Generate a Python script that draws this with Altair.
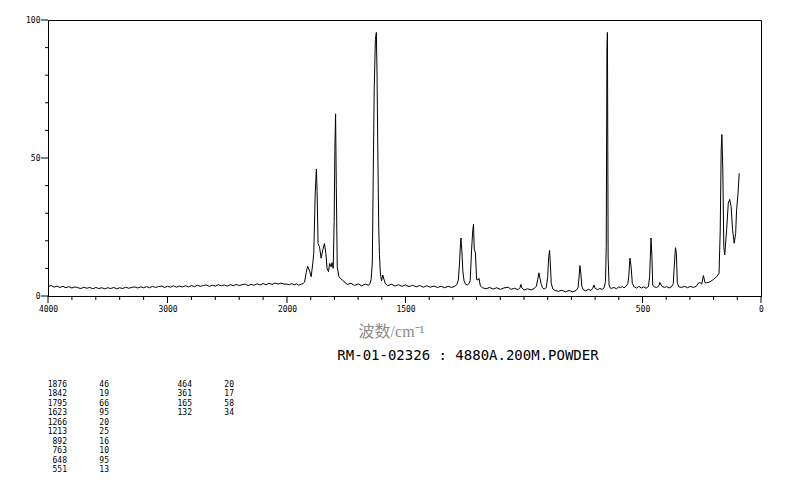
import altair as alt
import pandas as pd

# ---- spectrum ----
wavenumber = [
    4000, 3975, 3950, 3925, 3900, 3875, 3850, 3825, 3800, 3775,
    3750, 3725, 3700, 3675, 3650, 3625, 3600, 3575, 3550, 3525,
    3500, 3475, 3450, 3425, 3400, 3375, 3350, 3325, 3300, 3275,
    3250, 3225, 3200, 3175, 3150, 3125, 3100, 3075, 3050, 3025,
    3000, 2975, 2950, 2925, 2900, 2875, 2850, 2825, 2800, 2775,
    2750, 2725, 2700, 2675, 2650, 2625, 2600, 2575, 2550, 2525,
    2500, 2475, 2450, 2425, 2400, 2375, 2350, 2325, 2300, 2275,
    2250, 2225, 2200, 2175, 2150, 2125, 2100, 2075, 2050, 2025,
    2000, 1990, 1980, 1970, 1960, 1950, 1940, 1932, 1926,
    1919, 1913, 1906, 1898, 1891, 1887, 1881, 1876, 1873, 1869,
    1863, 1856, 1849, 1842, 1836, 1831, 1825, 1820, 1814, 1810,
    1805, 1801, 1798, 1795, 1792, 1788, 1781, 1767, 1746, 1730,
    1715, 1700, 1685, 1670, 1655, 1650, 1645, 1640, 1636, 1632,
    1627, 1623, 1620, 1617, 1613, 1610, 1606, 1601, 1596, 1590,
    1585, 1575, 1560, 1545, 1530, 1515, 1500, 1485, 1470, 1455,
    1440, 1425, 1410, 1395, 1380, 1365, 1350, 1335, 1320, 1305,
    1292, 1283, 1277, 1272, 1268, 1266, 1262, 1258, 1253, 1246,
    1239, 1233, 1227, 1221, 1216, 1213, 1210, 1205, 1200, 1194,
    1190, 1184, 1175, 1160, 1145, 1130, 1115, 1100, 1085, 1067,
    1055, 1040, 1025, 1017, 1013, 1009, 1000, 985, 970, 958,
    948, 942, 937, 933, 928, 922, 915, 906, 900, 896,
    892, 889, 885, 878, 870, 855, 840, 825, 810, 795,
    780, 772, 768, 764, 760, 756, 750, 740, 728, 718,
    710, 705, 700, 690, 680, 670, 662, 656, 653, 650,
    648, 645, 641, 636, 630, 620, 610, 600, 592, 585,
    578, 570, 562, 558, 553, 548, 543, 535, 525, 515,
    505, 495, 485, 475, 470, 464, 460, 457, 450, 440,
    430, 427, 418, 408, 398, 388, 378, 370, 367, 361,
    357, 353, 346, 335, 322, 310, 298, 285, 272, 265,
    257, 250, 243, 236, 229, 215, 201, 187, 177, 172,
    168, 165, 161, 157, 153, 145, 138, 132, 126, 120,
    113, 107, 103, 97, 92,
]
intensity = [
    3.4, 3.8, 3.2, 3.6, 3.1, 3.5, 3.0, 3.4, 2.9, 3.3,
    3.0, 2.7, 3.2, 2.8, 3.1, 2.6, 3.1, 2.7, 3.0, 2.6,
    3.0, 2.7, 3.1, 2.6, 3.0, 2.7, 3.2, 2.8, 3.1, 3.3,
    2.9, 3.3, 3.0, 3.4, 3.0, 3.5, 3.1, 3.4, 3.6, 3.1,
    3.5, 3.2, 3.7, 3.2, 3.6, 3.3, 3.7, 3.3, 3.8, 3.4,
    3.9, 3.5, 3.8, 4.0, 3.5, 3.9, 3.6, 4.1, 3.7, 4.0,
    3.6, 4.1, 3.7, 4.2, 3.8, 4.1, 4.3, 3.8, 4.2, 3.9,
    4.4, 4.0, 4.5, 4.1, 4.6, 4.2, 4.7, 4.3, 4.7, 4.3,
    4.3, 4.1, 4.5, 4.0, 4.4, 3.9, 4.3, 4.5, 5.0,
    8.5, 10.8, 9.4, 7.0, 12.0, 15.5, 37.0, 46.0, 38.0, 19.0,
    17.9, 13.7, 16.7, 19.0, 15.5, 10.0, 8.8, 11.8, 10.6, 12.1,
    10.0, 27.0, 53.0, 66.0, 40.0, 10.6, 7.0, 5.8, 4.2, 4.6,
    3.8, 4.4, 3.7, 4.3, 3.9, 4.5, 6.0, 12.0, 45.0, 75.0,
    93.0, 95.5, 80.0, 54.0, 25.0, 15.0, 8.0, 5.5, 7.6, 5.8,
    4.5, 3.7, 4.3, 3.6, 4.1, 3.5, 4.0, 3.4, 3.9, 3.3,
    3.8, 3.2, 3.7, 3.2, 3.6, 3.1, 3.5, 3.0, 3.5, 3.1,
    3.5, 4.2, 5.8, 12.0, 19.0, 21.0, 16.0, 9.0, 5.5, 4.2,
    4.0, 4.4, 5.5, 17.0, 24.0, 26.0, 17.0, 15.6, 6.0, 5.8,
    6.4, 3.6, 3.0, 2.6, 3.1, 2.5, 3.0, 2.4, 2.9, 3.2,
    2.4, 2.8, 2.3, 3.0, 4.2, 3.0, 2.2, 2.6, 2.2, 2.7,
    3.5, 6.0, 8.4, 6.5, 4.5, 3.0, 2.5, 3.0, 7.0, 14.0,
    16.5, 12.0, 4.5, 2.5, 2.0, 1.7, 2.1, 1.5, 2.0, 1.5,
    2.0, 3.0, 6.5, 11.0, 8.0, 3.5, 2.3, 1.9, 2.4, 2.0,
    2.8, 4.0, 2.8, 2.3, 2.7, 2.4, 3.0, 5.2, 18.0, 90.0,
    95.5, 14.0, 4.0, 2.8, 2.8, 3.1, 2.6, 3.3, 3.0, 3.5,
    2.9, 3.5, 4.5, 7.0, 13.7, 10.6, 4.6, 3.3, 2.9, 3.5,
    2.9, 3.3, 2.8, 3.4, 7.0, 21.0, 14.0, 4.0, 3.3, 3.1,
    3.8, 4.9, 3.5, 3.1, 3.4, 2.9, 3.3, 4.5, 9.4, 17.5,
    15.5, 4.6, 3.3, 3.1, 3.5, 3.0, 3.5, 3.1, 3.6, 4.6,
    4.9, 4.3, 7.4, 4.8, 4.8, 5.1, 6.0, 7.0, 8.2, 23.9,
    52.9, 58.5, 45.7, 17.9, 14.9, 24.0, 33.6, 35.0, 32.4, 24.0,
    19.1, 22.7, 31.2, 37.0, 44.5,
]

# ---- peak table ----
peak_wn = ["1876", "1842", "1795", "1623", "1266", "1213", "892", "763",
           "648", "551", "464", "361", "165", "132"]
peak_int = ["46", "19", "66", "95", "20", "25", "16", "10",
            "95", "13", "20", "17", "58", "34"]
peak_group = [0] * 10 + [1] * 4
peak_row = list(range(10)) + list(range(4))

# ---- axis ticks ----
x_labelled = [4000, 3000, 2000, 1500, 500, 0]
x_minor = [v for v in list(range(4000, 2000, -200)) + list(range(2000, -1, -100))
           if v not in x_labelled]
y_labelled = [0, 50, 100]
y_minor = [v for v in range(0, 101, 10) if v not in y_labelled]

x_title = "波数/cm⁻¹"
sample_label = "RM-01-02326 : 4880A.200M.POWDER"

spec_df = pd.DataFrame({"wn": wavenumber, "inten": intensity})
tbl_df = pd.DataFrame({"wn": peak_wn, "inten": peak_int,
                       "grp": peak_group, "row": peak_row})

mono = "DejaVu Sans Mono"
x_scale = alt.Scale(domain=[4000, 2000, 0], range=[0, 239, 713], nice=False, zero=False)
y_scale = alt.Scale(domain=[0, 100], nice=False)

spectrum = alt.Chart(spec_df).mark_line(color="black", strokeWidth=1).encode(
    x=alt.X(
        "wn:Q", scale=x_scale,
        axis=alt.Axis(
            orient="bottom", values=x_labelled, format="d", grid=False,
            ticks=False, tickSize=0, domainColor="black",
            labelFont=mono, labelFontSize=8, labelColor="black",
            labelPadding=9, labelFlush=False, labelOverlap=False,
            title=x_title, titleFont="Liberation Serif, Noto Sans CJK SC",
            titleFontSize=16, titleFontWeight="normal", titleColor="#8c8c8c",
            titleX=343, titleY=35, titleAlign="center", titleBaseline="middle",
        ),
    ),
    y=alt.Y(
        "inten:Q", scale=y_scale,
        axis=alt.Axis(
            orient="left", values=y_labelled, grid=False,
            ticks=False, tickSize=0, domainColor="black",
            labelFont=mono, labelFontSize=8, labelColor="black",
            labelPadding=8, labelFlush=False, labelOverlap=False,
            minExtent=35, title=None,
        ),
    ),
)

# tick marks drawn through the shared scales
xmaj_df = pd.DataFrame({"wn": x_labelled})
xmin_df = pd.DataFrame({"wn": x_minor})
ymaj_df = pd.DataFrame({"inten": y_labelled})
ymin_df = pd.DataFrame({"inten": y_minor})

x_major_ticks = alt.Chart(xmaj_df).mark_rule(color="black", strokeWidth=1).encode(
    x=alt.X("wn:Q", scale=x_scale), y=alt.value(276), y2=alt.value(283))
x_minor_ticks = alt.Chart(xmin_df).mark_rule(color="black", strokeWidth=1).encode(
    x=alt.X("wn:Q", scale=x_scale), y=alt.value(276), y2=alt.value(280))
y_major_ticks = alt.Chart(ymaj_df).mark_rule(color="black", strokeWidth=1).encode(
    y=alt.Y("inten:Q", scale=y_scale), x=alt.value(0), x2=alt.value(-7))
y_minor_ticks = alt.Chart(ymin_df).mark_rule(color="black", strokeWidth=1).encode(
    y=alt.Y("inten:Q", scale=y_scale), x=alt.value(0), x2=alt.value(-3))

plot = alt.layer(spectrum, x_major_ticks, x_minor_ticks, y_major_ticks, y_minor_ticks)

tbase = alt.Chart(tbl_df).encode(
    x=alt.X("grp:Q", scale=alt.Scale(domain=[0, 1], range=[19, 144]), axis=None),
    y=alt.Y("row:Q", scale=alt.Scale(domain=[0, 9], range=[365, 450]), axis=None),
)
wn_text = tbase.mark_text(align="right", baseline="middle", font=mono,
                          fontSize=8, color="black").encode(text="wn:N")
int_text = tbase.mark_text(align="right", baseline="middle", font=mono,
                           fontSize=8, color="black", dx=42).encode(text="inten:N")
table = alt.layer(wn_text, int_text)

label_text = alt.Chart(pd.DataFrame({"t": [sample_label]})).mark_text(
    font=mono, fontSize=14, align="center", baseline="middle", color="black"
).encode(text="t:N", x=alt.value(420), y=alt.value(336))

chart = alt.layer(plot, table, label_text).resolve_scale(
    x="independent", y="independent"
).properties(
    width=713, height=276,
    padding={"left": 5, "top": 8, "right": 5, "bottom": 5},
    background="white",
).configure_view(stroke="black", strokeWidth=1)

chart.save("out.html", embed_options={"renderer": "svg", "actions": False})
